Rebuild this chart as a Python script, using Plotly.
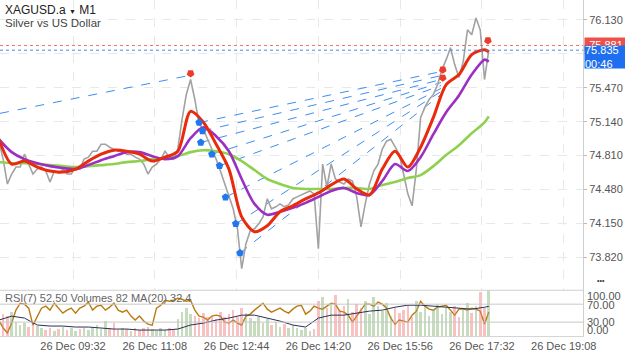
import pandas as pd
import plotly.graph_objects as go

DAY = "2023-12-26 "

# ---- gray price line (5-minute samples from 08:05) ----
price = [
    74.950, 74.776, 74.534, 74.631, 74.699, 74.699, 74.824, 74.728, 74.631, 74.679,
    74.699, 74.660, 74.554, 74.660, 74.641, 74.679, 74.631, 74.631, 74.699, 74.679,
    74.776, 74.795, 74.853, 74.853, 74.921, 74.921, 74.892, 74.873, 74.853, 74.853,
    74.824, 74.824, 74.795, 74.776, 74.728, 74.631, 74.699, 74.728, 74.776, 74.853,
    74.795, 74.776, 74.873, 75.163, 75.405, 75.550, 75.356, 75.115, 75.066, 74.969,
    74.873, 74.776, 74.660, 74.534, 74.409, 74.293, 74.099, 73.712, 73.954, 74.080,
    74.099, 74.147, 74.215, 74.389, 74.293, 74.312, 74.341, 74.312, 74.331, 74.389,
    74.409, 74.428, 74.447, 74.467, 74.438, 73.906, 74.728, 74.505, 74.728, 74.583,
    74.554, 74.534, 74.583, 74.563, 74.409, 74.118, 74.341, 74.534, 74.660, 74.728,
    74.873, 74.950, 74.969, 74.892, 74.824, 74.631, 74.438, 74.322, 74.679, 75.182,
    75.279, 75.356, 75.405, 75.501, 75.646, 75.743, 75.859, 75.695, 75.569, 75.724,
    76.033, 75.985, 76.149, 76.033, 75.550, 75.835]

rsi = [
    34.5, 16.8, 5.7, 27.8, 56.7, 72.2, 70.0, 61.1, 23.4, 43.4,
    61.1, 65.5, 56.7, 72.2, 61.1, 50.0, 56.7, 61.1, 50.0, 61.1,
    65.5, 74.4, 56.7, 65.5, 67.7, 56.7, 63.3, 72.2, 56.7, 52.2,
    56.7, 43.4, 34.5, 43.4, 32.3, 25.6, 23.4, 61.1, 67.7, 78.8,
    76.6, 78.8, 83.3, 81.0, 76.6, 78.8, 56.7, 43.4, 41.1, 34.5,
    43.4, 45.6, 43.4, 30.1, 27.8, 34.5, 27.8, 23.4, 43.4, 47.8,
    56.7, 65.5, 72.2, 58.9, 52.2, 56.7, 61.1, 54.4, 50.0, 58.9,
    65.5, 67.7, 47.8, 54.4, 65.5, 61.1, 58.9, 65.5, 72.2, 70.0,
    54.4, 52.2, 45.6, 30.1, 43.4, 58.9, 70.0, 70.0, 65.5, 74.4,
    70.0, 61.1, 38.9, 25.6, 34.5, 32.3, 30.1, 45.6, 54.4, 76.6,
    65.5, 58.9, 56.7, 63.3, 65.5, 67.7, 56.7, 45.6, 58.9, 58.9,
    56.7, 61.1, 58.9, 54.4, 25.6, 52.5]

volume = [
    28, 24, 22, 26, 15, 12, 14, 10, 13, 11,
    8, 6, 9, 5, 7, 10, 6, 8, 5, 7,
    9, 6, 8, 12, 7, 16, 9, 14, 6, 8,
    7, 5, 9, 6, 8, 10, 7, 5, 9, 6,
    8, 7, 18, 26, 30, 24, 22, 19, 25, 20,
    22, 18, 26, 20, 24, 28, 21, 30, 25, 19,
    16, 20, 14, 18, 12, 15, 10, 13, 9, 12,
    8, 6, 9, 5, 7, 38, 42, 30, 36, 44,
    28, 33, 40, 26, 35, 30, 38, 24, 42, 32,
    27, 36, 22, 30, 25, 28, 34, 20, 38, 26,
    31, 22, 29, 35, 24, 30, 26, 33, 21, 28,
    36, 25, 32, 48, 30, 82]

# ---- moving averages (15-minute samples from 08:05, last at 17:40) ----
ma_red = [
    74.969, 74.728, 74.757, 74.699, 74.660, 74.650, 74.679, 74.757, 74.824, 74.863,
    74.853, 74.824, 74.757, 74.795, 74.853, 75.240, 75.134, 74.921, 74.679, 74.215,
    74.070, 74.128, 74.264, 74.322, 74.389, 74.447, 74.525, 74.583, 74.486, 74.428,
    74.679, 74.853, 74.699, 74.892, 75.182, 75.501, 75.598, 75.792, 75.840, 75.821]
ma_purple = [
    74.969, 74.844, 74.776, 74.737, 74.708, 74.689, 74.679, 74.718, 74.766, 74.805,
    74.844, 74.844, 74.805, 74.776, 74.805, 74.979, 75.086, 74.999, 74.853, 74.583,
    74.341, 74.235, 74.264, 74.302, 74.351, 74.409, 74.467, 74.496, 74.447, 74.428,
    74.563, 74.728, 74.660, 74.795, 75.018, 75.231, 75.395, 75.598, 75.743, 75.724]
ma_green = [
    74.747, 74.737, 74.737, 74.728, 74.718, 74.708, 74.699, 74.708, 74.718, 74.728,
    74.747, 74.757, 74.776, 74.786, 74.805, 74.844, 74.863, 74.853, 74.824, 74.757,
    74.670, 74.583, 74.534, 74.496, 74.486, 74.486, 74.486, 74.496, 74.496, 74.486,
    74.525, 74.554, 74.592, 74.621, 74.708, 74.815, 74.911, 75.028, 75.134, 75.192]
vol_ma = [
    17.4, 21.7, 19.6, 12.0, 10.9, 10.9, 9.8, 9.8, 8.7, 7.6,
    7.6, 6.5, 6.5, 6.5, 7.6, 12.0, 14.1, 17.4, 19.6, 22.8,
    22.8, 19.6, 16.3, 12.0, 9.8, 19.6, 22.8, 22.8, 25.0, 27.2,
    28.3, 31.5, 33.7, 33.7, 32.6, 31.5, 30.4, 29.3, 31.5, 32.4]

# ---- signals ----
buy_times = ["12:00", "12:04", "12:02", "12:15", "12:24", "12:31", "12:43", "12:48"]
buy_prices = [75.131, 75.050, 74.938, 74.824, 74.711, 74.406, 74.147, 73.864]
target_time = "16:44"
target_prices = [75.627, 75.588, 75.550, 75.521, 75.492, 75.463, 75.434, 75.405]
sell_times = ["11:50", "16:46", "16:46", "17:39"]
sell_prices = [75.608, 75.646, 75.566, 75.930]
left_line_times = ["08:06:18", "11:49"]
left_line_prices = [75.221, 75.590]

bid_price = 75.881
ask_price = 75.835
price_ticks = [73.82, 74.15, 74.48, 74.81, 75.14, 75.47, 75.80, 76.13]
time_ticks = ["09:32", "11:08", "12:44", "14:20", "15:56", "17:32", "19:08"]
rsi_ticks = [("100.00", 0.1183), ("70.00", 0.0917), ("30.00", 0.0414), ("0.00", 0.0178)]

times5 = pd.date_range(DAY + "08:05", periods=len(price), freq="5min")
times15 = list(pd.date_range(DAY + "08:05", periods=len(ma_red) - 1, freq="15min")) + [pd.Timestamp(DAY + "17:40")]

FONT = "Liberation Sans, Arial, sans-serif"
fig = go.Figure()

# dashed signal lines
for t, p, tp in zip(buy_times, buy_prices, target_prices):
    fig.add_trace(go.Scatter(x=[DAY + t, DAY + target_time], y=[p, tp], mode="lines",
                             line=dict(color="#3d8ef0", width=1, dash="dash"),
                             hoverinfo="skip", showlegend=False))
fig.add_trace(go.Scatter(x=[DAY + t for t in left_line_times], y=left_line_prices, mode="lines",
                         line=dict(color="#3d8ef0", width=1, dash="dash"),
                         hoverinfo="skip", showlegend=False))

fig.add_trace(go.Scatter(x=times5, y=price, mode="lines",
                         line=dict(color="#a2a2a2", width=1.6), showlegend=False))
fig.add_trace(go.Scatter(x=times15, y=ma_green, mode="lines", line_shape="spline",
                         line=dict(color="#8fd14f", width=2.6, smoothing=0.8), showlegend=False))
fig.add_trace(go.Scatter(x=times15, y=ma_purple, mode="lines", line_shape="spline",
                         line=dict(color="#9b2fc4", width=2.6, smoothing=0.8), showlegend=False))
fig.add_trace(go.Scatter(x=times15, y=ma_red, mode="lines", line_shape="spline",
                         line=dict(color="#ea2a0c", width=3, smoothing=0.8), showlegend=False))

fig.add_trace(go.Scatter(x=[DAY + t for t in buy_times], y=buy_prices, mode="markers",
                         marker=dict(symbol="pentagon", size=8, color="#1f78f0"),
                         showlegend=False))
fig.add_trace(go.Scatter(x=[DAY + t for t in sell_times], y=sell_prices, mode="markers",
                         marker=dict(symbol="pentagon", size=8, color="#ec3b2a", angle=180),
                         showlegend=False))

# bottom panel
vol_colors = ["rgba(130,175,110,0.45)" if i > 0 and price[i] >= price[i - 1] else "rgba(242,120,120,0.45)"
              for i in range(len(price))]
fig.add_trace(go.Bar(x=times5, y=volume, marker=dict(color=vol_colors, line_width=0),
                     width=3 * 60 * 1000, xaxis="x2", yaxis="y3", showlegend=False))
fig.add_trace(go.Scatter(x=times15, y=vol_ma, mode="lines", line=dict(color="#2b2f5a", width=1),
                         xaxis="x2", yaxis="y3", showlegend=False))
fig.add_trace(go.Scatter(x=times5, y=rsi, mode="lines", line=dict(color="#b97b10", width=1.4),
                         xaxis="x2", yaxis="y2", showlegend=False))

xr = [DAY + "08:06:18", DAY + "19:30:36"]
tickv = [DAY + t for t in time_ticks]
tickt = ["26 Dec " + t for t in time_ticks]
split = 46 / 338

fig.update_layout(
    width=625, height=352, margin=dict(l=0, r=42, t=0, b=14),
    paper_bgcolor="white", plot_bgcolor="white",
    font=dict(family=FONT, size=11, color="#555"),
    bargap=0,
    xaxis=dict(domain=[0, 1], anchor="y", range=xr, type="date", tickvals=tickv,
               showticklabels=False, showgrid=True, gridcolor="#e8e8e8", griddash="dash",
               zeroline=False, showline=False),
    yaxis=dict(domain=[split, 1], anchor="x", side="right", range=[73.501, 76.323],
               tickvals=price_ticks, tickformat=".3f", showgrid=True, gridcolor="#e8e8e8",
               griddash="dash", zeroline=False, showline=True, linecolor="#cfcfcf",
               ticks="outside", ticklen=3, tickcolor="#bbb",
               tickfont=dict(size=11, color="#555")),
    xaxis2=dict(domain=[0, 1], anchor="y2", matches="x", range=xr, type="date",
                tickvals=tickv, ticktext=tickt, showgrid=False, zeroline=False,
                showline=True, linecolor="#d5d5d5", ticks="", ticklen=0,
                tickfont=dict(size=11, color="#555")),
    yaxis2=dict(domain=[0, split], anchor="x2", side="right", range=[-1, 101],
                showticklabels=False, showgrid=False, zeroline=False, showline=True,
                linecolor="#cfcfcf", ticks=""),
    yaxis3=dict(overlaying="y2", anchor="x2", range=[0, 50], visible=False),
    shapes=[
        dict(type="line", xref="paper", yref="y", x0=0, x1=1, y0=bid_price, y1=bid_price,
             line=dict(color="#f07068", width=1, dash="dot")),
        dict(type="line", xref="paper", yref="y", x0=0, x1=1, y0=ask_price, y1=ask_price,
             line=dict(color="#3d8ef0", width=1, dash="dot")),
        dict(type="line", xref="paper", yref="paper", x0=0, x1=1, y0=split, y1=split,
             line=dict(color="#cfcfcf", width=1)),
        dict(type="line", xref="paper", yref="y2", x0=0, x1=1, y0=70, y1=70,
             line=dict(color="#c8c8c8", width=1)),
        dict(type="line", xref="paper", yref="y2", x0=0, x1=1, y0=30, y1=30,
             line=dict(color="#c8c8c8", width=1)),
    ],
)

ann = [
    dict(text="XAGUSD.a <span style='font-size:7px'>▼</span> M1", x=0, y=1, xref="paper", yref="paper",
         xanchor="left", yanchor="top", xshift=3, yshift=-1, showarrow=False,
         font=dict(size=12, color="#222")),
    dict(text="Silver vs US Dollar", x=0, y=1, xref="paper", yref="paper",
         xanchor="left", yanchor="top", xshift=3, yshift=-15, showarrow=False,
         font=dict(size=11.5, color="#444")),
    dict(text="RSI(7) 52.50 Volumes 82 MA(20) 32.4", x=0, y=(338 - 300) / 338, xref="paper",
         yref="paper", xanchor="left", yanchor="middle", xshift=3, showarrow=False,
         font=dict(size=11, color="#666")),
    dict(text="•••", x=1, y=(338 - 282) / 338, xref="paper", yref="paper", xanchor="left",
         yanchor="middle", xshift=12, showarrow=False, font=dict(size=7, color="#333")),
    dict(text="75.881", x=1, y=bid_price, xref="paper", yref="y", xanchor="left",
         yanchor="middle", xshift=1, yshift=1, showarrow=False, bgcolor="#f0504a",
         width=40, height=11, font=dict(size=11, color="white")),
    dict(text="75.835<br>00:46", x=1, y=bid_price, xref="paper", yref="y", xanchor="left",
         yanchor="top", xshift=1, showarrow=False, bgcolor="#1e6ff0", width=40, height=22,
         borderpad=0, align="left", font=dict(size=11, color="white")),
]
for txt, yy in rsi_ticks:
    ann.append(dict(text=txt, x=1, y=yy, xref="paper", yref="paper", xanchor="left",
                    yanchor="middle", xshift=2, showarrow=False,
                    font=dict(size=11, color="#555")))
fig.update_layout(annotations=ann)

fig.write_html("out.html")
